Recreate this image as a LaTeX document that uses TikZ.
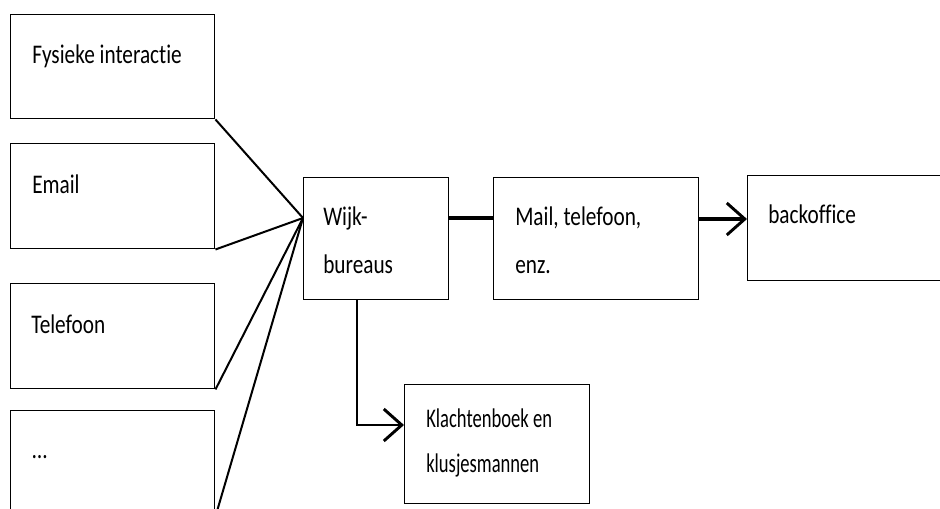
\documentclass[tikz,border=0pt]{standalone}
\usepackage{fontspec}
\setmainfont{Carlito}[FakeStretch=0.79,Ligatures={NoCommon}]
\newfontfamily\narrowfont{Carlito}[FakeStretch=0.69,Ligatures={NoCommon}]
\usetikzlibrary{calc,arrows.meta}

\tikzset{
  box/.style={draw, line width=1.1pt, inner sep=0pt, anchor=north west},
  txt/.style={inner sep=0pt, anchor=base west, align=left,
              font=\fontsize{20.2}{36}\selectfont},
  smalltxt/.style={inner sep=0pt, anchor=base west, align=left,
              font=\narrowfont\fontsize{20.2}{33.75}\selectfont},
  feed/.style={line width=1.5pt},
  chainlink/.style={line width=2.3pt},
  flow/.style={line width=2.6pt,
    -{Straight Barb[length=13.5pt,width=24pt,line width=2.2pt]}},
  branch/.style={line width=1.8pt,
    -{Straight Barb[length=13.5pt,width=24pt,line width=2.2pt]}}
}

\begin{document}
\begin{tikzpicture}[x=0.75pt,y=-0.75pt]
  \useasboundingbox (0,0) rectangle (940,508);

  % channels on the left
  \node[box, minimum width=153pt, minimum height=78pt]    (fys)   at (10,14)  {};
  \node[box, minimum width=153pt, minimum height=78.75pt] (email) at (10,143) {};
  \node[box, minimum width=153pt, minimum height=78.75pt] (tel)   at (10,283) {};
  \node[box, minimum width=153pt, minimum height=78.75pt] (more)  at (10,410) {};

  \node[txt] (fys-t)   at ($(fys.north west)+(22,49)$)   {Fysieke interactie};
  \node[txt] (email-t) at ($(email.north west)+(22,50)$) {Email};
  \node[txt] (tel-t)   at ($(tel.north west)+(21,50)$)   {Telefoon};
  \node[txt] (more-t)  at ($(more.north west)+(22,48)$)  {…};

  % central chain
  \node[box, minimum width=108.75pt, minimum height=91.5pt] (wijk) at (303,177) {};
  \node[box, minimum width=153.75pt, minimum height=91.5pt] (mail) at (493,177) {};
  \node[box, minimum width=165pt,    minimum height=78.75pt] (back) at (747,175) {};
  \node[box, minimum width=138.75pt, minimum height=89.25pt] (klacht) at (404,384) {};

  % two-line labels are anchored on the baseline of their last line
  \node[txt] (wijk-t) at ($(wijk.north west)+(20,96)$) {Wijk-\\bureaus};
  \node[txt] (mail-t) at ($(mail.north west)+(22,96)$) {Mail, telefoon,\\enz.};
  \node[txt] (back-t) at ($(back.north west)+(21,48)$) {backoffice};
  \node[smalltxt] (klacht-t) at ($(klacht.north west)+(22,88)$) {Klachtenboek en\\klusjesmannen};

  % connectors
  \coordinate (hub) at ($(wijk.north west)+(0,41)$);
  \draw[feed] (fys.south east)   -- (hub);
  \draw[feed] (email.south east) -- (hub);
  \draw[feed] (tel.south east)   -- (hub);
  \draw[feed] (more.south east)  -- (hub);

  \draw[chainlink] ($(wijk.north east)+(0,41)$) -- ($(mail.north west)+(0,41)$);
  \draw[flow] ($(mail.north east)+(0,42)$) -- ($(back.north west)+(0,44)$);
  \draw[branch] ($(wijk.south west)+(54,0)$) |- ($(klacht.north west)+(0,41)$);
\end{tikzpicture}
\end{document}
